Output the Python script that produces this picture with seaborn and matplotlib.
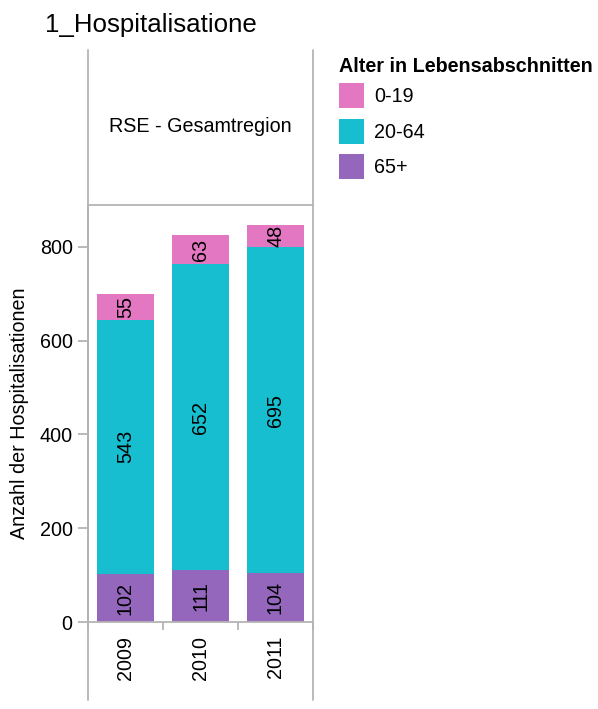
import matplotlib
matplotlib.use("Agg")
import matplotlib.pyplot as plt
from matplotlib.lines import Line2D
from matplotlib.patches import Patch
import numpy as np
import pandas as pd
import seaborn as sns

# Data
years = ["2009", "2010", "2011"]
age_groups = ["0-19", "20-64", "65+"]
age_0_19 = [55, 63, 48]
age_20_64 = [543, 652, 695]
age_65_plus = [102, 111, 104]
colors = {"0-19": "#E377C2", "20-64": "#17BECF", "65+": "#9467BD"}

sns.set_theme(style="white")
plt.rcParams["font.family"] = ["Liberation Sans", "DejaVu Sans"]
plt.rcParams["text.color"] = "black"

W, H = 598, 709
fig = plt.figure(figsize=(W / 100, H / 100), dpi=100)

def fx(px):
    return px / W

def fy(py):
    return 1 - py / H

FS = 14.2

ax = fig.add_axes([fx(88), fy(622), fx(313) - fx(88), fy(205) - fy(622)])

df = pd.DataFrame({
    "Jahr": years * 3,
    "Alter": ["65+"] * 3 + ["20-64"] * 3 + ["0-19"] * 3,
    "Anzahl": age_65_plus + age_20_64 + age_0_19,
})

# Stack from the bottom: 65+, then 20-64, then 0-19
bottom = np.zeros(len(years))
for grp in ["65+", "20-64", "0-19"]:
    sub = df[df["Alter"] == grp]
    sns.barplot(data=sub, x="Jahr", y="Anzahl", order=years, color=colors[grp],
                width=0.77, errorbar=None, bottom=bottom, ax=ax,
                saturation=1, linewidth=0)
    bottom = bottom + sub["Anzahl"].to_numpy()

for cont in ax.containers:
    ax.bar_label(cont, label_type="center", rotation=90, fontsize=FS, color="black")

totals = np.array(age_0_19) + np.array(age_20_64) + np.array(age_65_plus)
ax.set_ylim(0, totals.max() * 1.05)
ax.set_xlim(-0.5, 2.5)

grey = "#b4b4b4"
for s in ["top", "right"]:
    ax.spines[s].set_visible(False)
ax.spines["left"].set_color(grey)
ax.spines["bottom"].set_color(grey)
ax.spines["left"].set_linewidth(1.3)
ax.spines["bottom"].set_linewidth(1.3)

ax.set_yticks([0, 200, 400, 600, 800])
ax.tick_params(axis="y", direction="out", length=7, width=1.3, color=grey,
               labelsize=FS, pad=4, left=True, labelcolor="black")
ax.set_xticks(range(len(years)))
ax.set_xticklabels(years, rotation=90)
ax.tick_params(axis="x", which="major", length=0, labelsize=FS, pad=10,
               labelcolor="black")
ax.set_xticks([-0.5, 0.5, 1.5, 2.5], minor=True)
ax.tick_params(axis="x", which="minor", direction="out", length=6, width=1.3,
               color=grey, bottom=True)
ax.set_xlabel("")
ax.set_ylabel("")

fig.text(fx(19.5), fy(413), "Anzahl der Hospitalisationen", rotation=90,
         ha="center", va="center", fontsize=FS)

# Facet frame: vertical rules and header separator
lw = 1.3
fig.add_artist(Line2D([fx(88), fx(88)], [fy(50), fy(700)], color=grey, lw=lw))
fig.add_artist(Line2D([fx(313), fx(313)], [fy(50), fy(700)], color=grey, lw=lw))
fig.add_artist(Line2D([fx(88), fx(313)], [fy(205), fy(205)], color=grey, lw=lw))
fig.text(fx(200), fy(127), "RSE - Gesamtregion", ha="center", va="center", fontsize=FS)

fig.text(fx(45), fy(25), "1_Hospitalisatione", ha="left", va="center", fontsize=18.6)

handles = [Patch(facecolor=colors[g], edgecolor="none") for g in age_groups]
leg = fig.legend(handles, age_groups, loc="upper left",
                 bbox_to_anchor=(fx(339), fy(57)), frameon=False,
                 fontsize=FS, title="Alter in Lebensabschnitten",
                 title_fontproperties={"weight": "bold", "size": FS},
                 handlelength=1.27, handleheight=1.57, labelspacing=0.53,
                 handletextpad=0.5, borderpad=0, borderaxespad=0)
leg._legend_box.align = "left"
# tighter gap between the legend title and its entries
leg._legend_box.sep = 0.53 * FS - 2.3
for t in leg.get_texts():
    t.set_color("black")
leg.get_title().set_color("black")

fig.savefig("out.png", dpi=100)
